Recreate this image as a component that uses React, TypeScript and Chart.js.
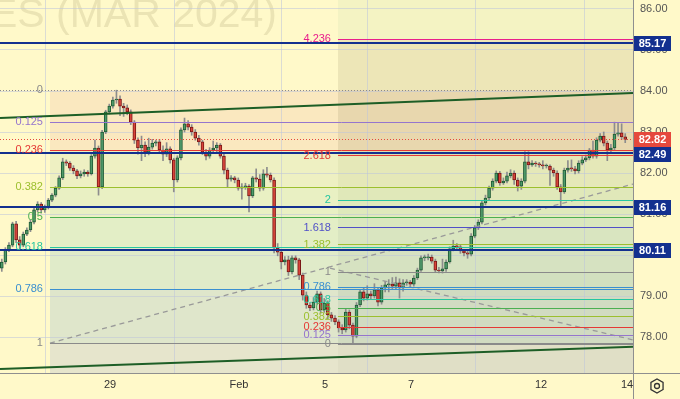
import React, { useEffect, useRef } from 'react';
import { Chart, registerables } from 'chart.js';
Chart.register(...registerables);

const FONT = '"Liberation Sans", Arial, sans-serif';

// ---- candle data (2-hour bars, index = bar number) ----
const opens = [79.68,
 79.83, 80.12, 80.24, 80.76, 80.37, 80.24, 80.51, 80.61, 80.80, 81.10,
 81.24, 81.10, 81.17, 81.34, 81.46, 81.63, 81.88, 82.27, 82.24, 82.12,
 82.05, 81.93, 81.98, 82.02, 81.98, 82.41, 82.61, 81.66, 83.00, 83.49,
 83.63, 83.78, 83.80, 83.63, 83.59, 83.49, 83.24, 82.80, 82.61, 82.68,
 82.51, 82.63, 82.73, 82.76, 82.56, 82.46, 82.59, 82.32, 81.83, 82.37,
 83.05, 83.20, 83.12, 83.00, 82.85, 82.76, 82.51, 82.41, 82.56, 82.61,
 82.68, 82.41, 82.07, 81.85, 81.88, 81.83, 81.63, 81.66, 81.68, 81.44,
 81.88, 81.85, 81.63, 81.98, 81.95, 81.83, 80.17, 80.07, 79.83, 79.88,
 79.59, 79.93, 79.88, 79.51, 79.02, 78.78, 78.71, 78.85, 79.05, 78.66,
 78.83, 78.54, 78.46, 78.37, 78.22, 78.17, 78.61, 78.29, 78.02, 78.78,
 79.10, 78.95, 79.05, 79.00, 79.15, 78.85, 79.20, 79.27, 79.29, 79.24,
 79.32, 79.20, 79.32, 79.34, 79.29, 79.44, 79.63, 79.93, 79.93, 79.95,
 79.85, 79.63, 79.61, 79.66, 79.83, 80.15, 80.22, 80.20, 80.10, 80.05,
 80.02, 80.46, 80.66, 80.80, 81.27, 81.39, 81.63, 81.80, 82.00, 81.76,
 81.80, 81.93, 82.00, 81.83, 81.68, 81.80, 82.27, 82.20, 82.24, 82.22,
 82.20, 82.17, 82.17, 82.07, 82.00, 81.66, 81.54, 82.07, 82.12, 82.10,
 82.05, 82.24, 82.32, 82.37, 82.56, 82.41, 82.80, 82.90, 82.73, 82.56,
 82.61, 82.95, 82.98, 82.88];

const closes = [
 79.83, 80.12, 80.24, 80.76, 80.37, 80.24, 80.51, 80.61, 80.80, 81.10,
 81.24, 81.10, 81.17, 81.34, 81.46, 81.63, 81.88, 82.27, 82.24, 82.12,
 82.05, 81.93, 81.98, 82.02, 81.98, 82.41, 82.61, 81.66, 83.00, 83.49,
 83.63, 83.78, 83.80, 83.63, 83.59, 83.49, 83.24, 82.80, 82.61, 82.68,
 82.51, 82.63, 82.73, 82.76, 82.56, 82.46, 82.59, 82.32, 81.83, 82.37,
 83.05, 83.20, 83.12, 83.00, 82.85, 82.76, 82.51, 82.41, 82.56, 82.61,
 82.68, 82.41, 82.07, 81.85, 81.88, 81.83, 81.63, 81.66, 81.68, 81.44,
 81.88, 81.85, 81.63, 81.98, 81.95, 81.83, 80.17, 80.07, 79.83, 79.88,
 79.59, 79.93, 79.88, 79.51, 79.02, 78.78, 78.71, 78.85, 79.05, 78.66,
 78.83, 78.54, 78.46, 78.37, 78.22, 78.17, 78.61, 78.29, 78.02, 78.78,
 79.10, 78.95, 79.05, 79.00, 79.15, 78.85, 79.20, 79.27, 79.29, 79.24,
 79.32, 79.20, 79.32, 79.34, 79.29, 79.44, 79.63, 79.93, 79.93, 79.95,
 79.85, 79.63, 79.61, 79.66, 79.83, 80.15, 80.22, 80.20, 80.10, 80.05,
 80.02, 80.46, 80.66, 80.80, 81.27, 81.39, 81.63, 81.80, 82.00, 81.76,
 81.80, 81.93, 82.00, 81.83, 81.68, 81.80, 82.27, 82.20, 82.24, 82.22,
 82.20, 82.17, 82.17, 82.07, 82.00, 81.66, 81.54, 82.07, 82.12, 82.10,
 82.05, 82.24, 82.32, 82.37, 82.56, 82.41, 82.80, 82.90, 82.73, 82.56,
 82.61, 82.95, 82.98, 82.88, 82.82];

const highs = [
 79.90, 80.18, 80.30, 80.80, 80.82, 80.45, 80.56, 80.66, 80.85, 81.14,
 81.30, 81.28, 81.22, 81.38, 81.50, 81.67, 81.93, 82.36, 82.32, 82.28,
 82.18, 82.09, 82.05, 82.08, 82.06, 82.45, 82.80, 82.66, 83.04, 83.53,
 83.68, 83.85, 84.02, 83.88, 83.70, 83.66, 83.54, 83.28, 82.86, 82.90,
 82.76, 82.85, 82.82, 82.80, 82.82, 82.66, 82.74, 82.64, 82.36, 82.42,
 83.10, 83.34, 83.28, 83.18, 83.06, 82.92, 82.80, 82.58, 82.62, 82.78,
 82.74, 82.72, 82.46, 82.12, 81.94, 81.92, 81.88, 81.74, 81.75, 81.72,
 81.92, 82.10, 81.96, 82.08, 82.14, 82.00, 81.88, 80.28, 80.12, 79.96,
 79.97, 79.98, 79.98, 79.92, 79.56, 79.10, 78.84, 78.96, 79.12, 79.10,
 78.94, 78.88, 78.60, 78.52, 78.42, 78.30, 78.68, 78.66, 78.34, 78.84,
 79.16, 79.20, 79.25, 79.12, 79.30, 79.20, 79.26, 79.36, 79.40, 79.45,
 79.46, 79.42, 79.40, 79.40, 79.38, 79.50, 79.68, 79.98, 80.00, 80.02,
 80.00, 79.90, 79.70, 79.90, 79.88, 80.20, 80.36, 80.28, 80.26, 80.14,
 80.10, 80.52, 80.72, 80.86, 81.32, 81.46, 81.68, 81.86, 82.05, 82.04,
 81.88, 82.02, 82.08, 82.05, 81.88, 81.86, 82.52, 82.52, 82.30, 82.28,
 82.26, 82.30, 82.22, 82.20, 82.12, 82.05, 81.72, 82.12, 82.30, 82.32,
 82.16, 82.30, 82.40, 82.44, 82.60, 82.78, 82.86, 82.96, 83.00, 82.78,
 82.70, 83.24, 83.22, 83.20, 82.96];

const lows = [
 79.60, 79.78, 80.08, 80.20, 80.30, 80.15, 80.20, 80.47, 80.57, 80.76,
 81.05, 81.02, 81.04, 81.12, 81.30, 81.42, 81.60, 81.84, 82.18, 82.06,
 81.98, 81.86, 81.88, 81.92, 81.92, 81.95, 82.36, 81.46, 81.62, 82.96,
 83.44, 83.58, 83.70, 83.40, 83.38, 83.42, 83.18, 82.72, 82.46, 82.30,
 82.40, 82.44, 82.58, 82.66, 82.48, 82.30, 82.40, 82.24, 81.54, 81.78,
 82.32, 83.00, 83.05, 82.92, 82.80, 82.68, 82.45, 82.32, 82.36, 82.52,
 82.52, 82.36, 81.98, 81.66, 81.80, 81.76, 81.58, 81.36, 81.60, 81.05,
 81.40, 81.78, 81.56, 81.58, 81.90, 81.78, 80.05, 79.98, 79.66, 79.76,
 79.50, 79.54, 79.80, 79.40, 78.90, 78.70, 78.64, 78.66, 78.80, 78.58,
 78.60, 78.44, 78.38, 78.30, 78.12, 78.08, 78.12, 78.20, 77.85, 77.98,
 78.74, 78.88, 78.90, 78.92, 78.95, 78.76, 78.80, 79.10, 79.10, 79.16,
 79.18, 78.95, 79.12, 79.26, 79.22, 79.24, 79.40, 79.60, 79.86, 79.88,
 79.80, 79.58, 79.56, 79.56, 79.60, 79.80, 80.10, 80.14, 80.04, 79.98,
 79.92, 79.98, 80.42, 80.62, 80.76, 81.22, 81.34, 81.58, 81.76, 81.70,
 81.72, 81.76, 81.88, 81.72, 81.56, 81.60, 81.76, 82.10, 82.16, 82.16,
 82.14, 82.10, 82.12, 81.70, 81.92, 81.60, 81.16, 81.50, 82.02, 82.04,
 81.98, 82.00, 82.20, 82.28, 82.32, 82.36, 82.36, 82.76, 82.66, 82.30,
 82.50, 82.56, 82.90, 82.82, 82.74];

// ---- axes ----
const dayTickLabels = ['29', 'Feb', '5', '7', '12', '14'];
const dayTickIndex = [30.2, 66.2, 90.2, 114.2, 150.5, 174.5];
const yTickValues = [78, 79, 80, 81, 82, 83, 84, 85, 86];
const xMin = -0.5;
const xMax = 176.17;
const yMin = 77.122;
const yMax = 86.2195;

// ---- drawings ----
const keyLevels = [85.17, 82.49, 81.16, 80.11];
const lastPrice = 82.82;

const leftFibHigh = 84.02;
const leftFibLow = 77.85;
const leftFibStart = 13.45;
const leftFibRatios = [0, 0.125, 0.236, 0.382, 0.5, 0.618, 0.786, 1];
const leftFibLabels = ['0', '0.125', '0.236', '0.382', '0.5', '0.618', '0.786', '1'];

const rightFibZero = 77.83;
const rightFibOne = 79.586;
const rightFibStart = 93.83;
const rightFibRatios = [0, 0.125, 0.236, 0.382, 0.5, 0.618, 0.786, 1, 1.382, 1.618, 2, 2.618, 4.236];
const rightFibLabels = ['0', '0.125', '0.236', '0.382', '0.5', '0.618', '0.786', '1', '1.382', '1.618', '2', '2.618', '4.236'];

const upperTrendX = [-0.5, 176.17];
const upperTrendY = [83.34, 83.95];
const lowerTrendX = [-0.5, 176.17];
const lowerTrendY = [77.22, 77.76];
const dashAX = [13.45, 176.17];
const dashAY = [77.85, 81.73];
const dashBX = [91.6, 176.17];
const dashBY = [79.68, 77.93];

const watermark = 'ES (MAR 2024)';

// ---- styles ----
const BASE = '#fff9c9';
const GRID = 'rgba(190,196,218,0.55)';
const NAVY = '#13308f';
const RED_PRICE = '#e5483d';
const fibColor: Record<string, string> = {
  '0': '#8a8a8a', '0.125': '#9575cd', '0.236': '#e53935', '0.382': '#9cbf2e', '0.5': '#4caf50',
  '0.618': '#26c6a0', '0.786': '#3a8fd0', '1': '#8a8a8a', '1.382': '#9cbf2e', '1.618': '#5050c8',
  '2': '#26c6a0', '2.618': '#e53935', '4.236': '#e91e8c',
};
const leftZoneStyle = [
  [0, 0.236, '#fae8bf'], [0.236, 0.382, '#eef0c2'], [0.382, 0.5, '#e9f0c3'], [0.5, 0.618, '#e3eec6'],
  [0.618, 0.786, '#e0ebc9'], [0.786, 1, '#dfe6cb'], [1, null, '#e6e5cc'],
] as [number, number | null, string][];
const rightZoneStyle = [
  [4.236, null, 'rgba(150,200,150,0.10)'], [2.618, 4.236, 'rgba(110,100,60,0.12)'],
  [2, 2.618, 'rgba(110,130,60,0.07)'], [1.618, 2, 'rgba(100,140,80,0.07)'],
  [1.382, 1.618, 'rgba(90,120,120,0.07)'], [1, 1.382, 'rgba(100,130,100,0.08)'],
  [0, 1, 'rgba(90,130,110,0.10)'], [-1, 0, 'rgba(120,120,100,0.05)'],
] as [number, number | null, string][];

const leftLevel = (k: number) => leftFibHigh - k * (leftFibHigh - leftFibLow);
const rightLevel = (k: number) => rightFibZero + k * (rightFibOne - rightFibZero);

export default function App() {
  const ref = useRef<HTMLCanvasElement>(null);
  useEffect(() => {
    const canvas = ref.current!;
    const idx = closes.map((_, i) => i);
    const up = (i: number) => closes[i] >= opens[i];

    const plugin = {
      id: 'tvdraw',
      beforeDraw(chart: any) {
        const { ctx, chartArea: a, scales } = chart;
        const x = scales.x, y = scales.y;
        const yp = (v: number) => y.getPixelForValue(v);
        ctx.save();
        ctx.fillStyle = BASE;
        ctx.fillRect(0, 0, chart.width, chart.height);
        const L = x.getPixelForValue(leftFibStart);
        leftZoneStyle.forEach(([f, t, c]) => {
          const y1 = yp(leftLevel(f));
          const y2 = t === null ? a.bottom : yp(leftLevel(t));
          ctx.fillStyle = c;
          ctx.fillRect(L, y1, a.right - L, y2 - y1);
        });
        const RL = x.getPixelForValue(rightFibStart);
        rightZoneStyle.forEach(([f, t, c]) => {
          const yA = f < 0 ? a.bottom : yp(rightLevel(f));
          const yB = t === null ? a.top : yp(rightLevel(t));
          ctx.fillStyle = c;
          ctx.fillRect(RL, Math.min(yA, yB), a.right - RL, Math.abs(yA - yB));
        });
        ctx.font = `41px ${FONT}`;
        ctx.fillStyle = 'rgba(120,110,60,0.15)';
        ctx.textAlign = 'right';
        ctx.textBaseline = 'alphabetic';
        ctx.fillText(watermark, 277, 27);
        ctx.restore();
      },
      afterDatasetsDraw(chart: any) {
        const { ctx, chartArea: a, scales } = chart;
        const x = scales.x, y = scales.y;
        const yp = (v: number) => Math.round(y.getPixelForValue(v)) + 0.5;
        ctx.save();
        ctx.beginPath();
        ctx.rect(a.left, a.top, a.right - a.left, a.bottom - a.top);
        ctx.clip();
        const hline = (v: number, x1: number, color: string, w = 1, dash: number[] = []) => {
          ctx.beginPath();
          ctx.strokeStyle = color;
          ctx.lineWidth = w;
          ctx.setLineDash(dash);
          const py = w === 2 ? Math.round(y.getPixelForValue(v)) : yp(v);
          ctx.moveTo(x1, py);
          ctx.lineTo(a.right, py);
          ctx.stroke();
        };
        const L = x.getPixelForValue(leftFibStart);
        const RL = x.getPixelForValue(rightFibStart);
        leftFibRatios.forEach((k, i) => {
          const lab = leftFibLabels[i];
          if (k === 0) hline(leftLevel(k), 0, '#8a8a8a', 1, [1, 2]);
          else hline(leftLevel(k), L, fibColor[lab]);
        });
        rightFibRatios.forEach((k, i) => {
          hline(rightLevel(k), RL, fibColor[rightFibLabels[i]]);
        });
        keyLevels.forEach((v) => hline(v, 0, NAVY, 2));
        hline(lastPrice, 0, RED_PRICE, 1, [1, 2]);
        ctx.setLineDash([]);
        ctx.font = `11px ${FONT}`;
        ctx.textAlign = 'right';
        ctx.textBaseline = 'middle';
        leftFibRatios.forEach((k, i) => {
          const lab = leftFibLabels[i];
          ctx.fillStyle = fibColor[lab];
          ctx.fillText(lab, L - 7, y.getPixelForValue(leftLevel(k)));
        });
        rightFibRatios.forEach((k, i) => {
          const lab = rightFibLabels[i];
          ctx.fillStyle = fibColor[lab];
          ctx.fillText(lab, RL - 7, y.getPixelForValue(rightLevel(k)));
        });
        ctx.restore();
      },
      afterDraw(chart: any) {
        const { ctx, chartArea: a, scales } = chart;
        const y = scales.y;
        ctx.save();
        ctx.strokeStyle = '#8f8f8f';
        ctx.lineWidth = 1;
        ctx.beginPath();
        ctx.moveTo(0, a.bottom + 0.5);
        ctx.lineTo(chart.width, a.bottom + 0.5);
        ctx.moveTo(a.right + 0.5, 0);
        ctx.lineTo(a.right + 0.5, chart.height);
        ctx.stroke();
        const boxes = [
          ...keyLevels.map((v) => ({ v, c: NAVY })),
          { v: lastPrice, c: RED_PRICE },
        ].map((b) => ({ ...b, py: y.getPixelForValue(b.v) }))
          .sort((p, q) => p.py - q.py);
        const H = 15;
        let prev = -100;
        boxes.forEach((b) => {
          let cy = b.py;
          if (cy - prev < H) cy = prev + H;
          prev = cy;
          ctx.fillStyle = b.c;
          ctx.fillRect(a.right + 1, Math.round(cy - H / 2), 37, H);
          ctx.fillStyle = '#ffffff';
          ctx.font = `bold 11px ${FONT}`;
          ctx.textAlign = 'center';
          ctx.textBaseline = 'middle';
          ctx.fillText(b.v.toFixed(2), a.right + 19.5, Math.round(cy) + 0.5);
        });
        const cx = 657, cyI = 386, r = 7;
        ctx.strokeStyle = '#333333';
        ctx.lineWidth = 1.3;
        ctx.beginPath();
        for (let k = 0; k < 6; k++) {
          const ang = Math.PI / 6 + (k * Math.PI) / 3;
          const px = cx + r * Math.cos(ang), py = cyI + r * Math.sin(ang);
          if (k === 0) ctx.moveTo(px, py); else ctx.lineTo(px, py);
        }
        ctx.closePath();
        ctx.stroke();
        ctx.beginPath();
        ctx.arc(cx, cyI, 2.5, 0, Math.PI * 2);
        ctx.stroke();
        ctx.restore();
      },
    };

    const pts = (xs: number[], ys: number[]) => xs.map((xv, i) => ({ x: xv, y: ys[i] }));

    const chart = new Chart(canvas, {
      type: 'bar',
      data: {
        datasets: [
          {
            type: 'line', data: pts(upperTrendX, upperTrendY), borderColor: '#1d5e26', borderWidth: 2,
            pointRadius: 0, order: 0,
          } as any,
          {
            type: 'line', data: pts(lowerTrendX, lowerTrendY), borderColor: '#1d5e26', borderWidth: 2,
            pointRadius: 0, order: 0,
          } as any,
          {
            type: 'line', data: pts(dashAX, dashAY), borderColor: '#999999', borderWidth: 1.3,
            borderDash: [5, 4], pointRadius: 0, order: 0,
          } as any,
          {
            type: 'line', data: pts(dashBX, dashBY), borderColor: '#999999', borderWidth: 1.3,
            borderDash: [5, 4], pointRadius: 0, order: 0,
          } as any,
          {
            type: 'bar', data: idx.map((i) => ({ x: i, y: [opens[i], closes[i]] })),
            backgroundColor: (c: any) => (up(c.dataIndex) ? '#4f9a6a' : '#d8453a'),
            borderColor: (c: any) => (up(c.dataIndex) ? '#1f5a35' : '#7a1717'),
            borderWidth: 1, borderSkipped: false, barThickness: 3, grouped: false, minBarLength: 1, order: 1,
          } as any,
          {
            type: 'bar', data: idx.map((i) => ({ x: i, y: [lows[i], highs[i]] })),
            backgroundColor: '#8d8d8d', barThickness: 1, grouped: false, order: 2,
          } as any,
        ],
      },
      options: {
        responsive: false,
        animation: false,
        layout: { padding: 0 },
        plugins: { legend: { display: false }, tooltip: { enabled: false } },
        scales: {
          x: {
            type: 'linear', min: xMin, max: xMax, offset: false,
            afterBuildTicks: (s: any) => { s.ticks = dayTickIndex.map((v) => ({ value: v })); },
            afterFit: (s: any) => { s.height = 26; s.paddingLeft = 0; s.paddingRight = 0; s.paddingTop = 0; s.paddingBottom = 0; },
            ticks: {
              autoSkip: false, maxRotation: 0, padding: 5, color: '#333333',
              font: { size: 11, family: FONT },
              callback: (_v: any, i: number) => dayTickLabels[i],
            },
            grid: { color: GRID, drawTicks: false },
            border: { display: false },
          },
          y: {
            position: 'right', min: yMin, max: yMax,
            afterBuildTicks: (s: any) => { s.ticks = yTickValues.map((v) => ({ value: v })); },
            afterFit: (s: any) => { s.width = 47; s.paddingTop = 0; s.paddingBottom = 0; s.paddingLeft = 0; s.paddingRight = 0; },
            ticks: {
              padding: 7, color: '#555555', font: { size: 11, family: FONT },
              callback: (v: any) => Number(v).toFixed(2),
            },
            grid: { color: GRID, drawTicks: false },
            border: { display: false },
          },
        },
      } as any,
      plugins: [plugin],
    });
    return () => chart.destroy();
  }, []);

  return (
    <div style={{ position: 'fixed', left: 0, top: 0, width: 680, height: 399 }}>
      <canvas ref={ref} width={680} height={399} style={{ display: 'block', width: 680, height: 399 }} />
    </div>
  );
}
